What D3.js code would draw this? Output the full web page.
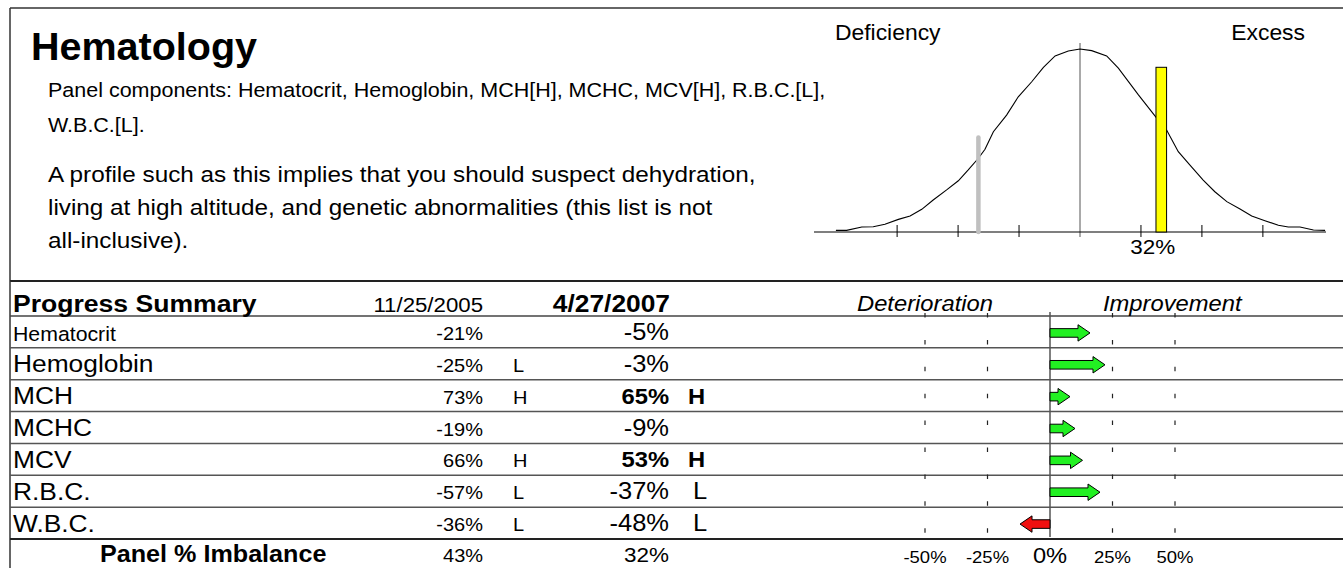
<!DOCTYPE html>
<html><head><meta charset="utf-8">
<script src="https://cdn.jsdelivr.net/npm/d3@7"></script>
<style>
html,body{margin:0;padding:0;background:#fff;}
svg{display:block;font-family:"Liberation Sans",Arial,Helvetica,sans-serif;}
</style></head><body>
<svg id="chart" width="1343" height="568"></svg>
<script>
// ---------------- DATA ----------------
const titleText = "Hematology";
const componentsLines = ["Panel components: Hematocrit, Hemoglobin, MCH[H], MCHC, MCV[H], R.B.C.[L],", "W.B.C.[L]."];
const profileLines = ["A profile such as this implies that you should suspect dehydration,", "living at high altitude, and genetic abnormalities (this list is not", "all-inclusive)."];
const bellLabels = ["Deficiency", "Excess"];
const components = ["Hematocrit","Hemoglobin","MCH","MCHC","MCV","R.B.C.","W.B.C."];
const prevValues = [-21,-25,73,-19,66,-57,-36];
const prevFlags  = ["","L","H","","H","L","L"];
const currValues = [-5,-3,65,-9,53,-37,-48];
const currFlags  = ["","","H","","H","L","L"];
const changeValues = [16,22,8,10,13,20,-12];
const dates = ["11/25/2005","4/27/2007"];
const imbalance = [43, 32];
const changeTicks = [-50,-25,0,25,50];
const changeHeaders = ["Deterioration","Improvement"];
// bell curve: x in % imbalance, y relative height
const bellX = [-96.1,-91.9,-85.9,-81.4,-76.8,-71.5,-66.9,-62.3,-57.8,-52.5,-47.9,-44.0,-40.0,-37.4,-34.1,-28.9,-24.3,-19.0,-14.4,-9.8,-4.6,0,4.6,10.5,15.1,23.0,30.2,34.1,38.7,43.3,48.5,53.1,57.8,63.0,67.6,72.8,78.1,82.0,86.6,91.9,96.5];
const bellY = [0.009,0.009,0.027,0.029,0.042,0.069,0.087,0.124,0.175,0.230,0.280,0.339,0.403,0.452,0.548,0.639,0.739,0.821,0.900,0.962,0.989,1.0,0.991,0.962,0.895,0.749,0.622,0.557,0.439,0.366,0.284,0.220,0.166,0.126,0.087,0.062,0.037,0.027,0.027,0.011,0.009];
const bellTicks = [-72,-48,-24,24,48,72];
const markerValues = [-40, 32];
const markerHeights = [0.516, 0.9];

// ---------------- DRAW ----------------
const svg = d3.select("#chart");
const SX = 1.08;
function label(x, y, str, size, o = {}) {
  return svg.append("text")
    .attr("transform", `translate(${x},${y}) scale(${o.sx ?? SX},1)`)
    .attr("font-size", size)
    .attr("text-anchor", o.anchor || "start")
    .attr("font-weight", o.bold ? "bold" : null)
    .attr("font-style", o.italic ? "italic" : null)
    .attr("fill", "#000")
    .text(str);
}
function hline(y, x1, x2, w, c) {
  svg.append("line").attr("x1", x1).attr("x2", x2).attr("y1", y).attr("y2", y)
    .attr("stroke", c).attr("stroke-width", w);
}
function vline(x, y1, y2, w, c) {
  svg.append("line").attr("x1", x).attr("x2", x).attr("y1", y1).attr("y2", y2)
    .attr("stroke", c).attr("stroke-width", w);
}

// frame top section
hline(8, 10, 1343, 1.5, "#333");
vline(10, 8, 281, 1.5, "#333");

// title & text
label(31, 60, titleText, 39.5, {bold: true, sx: 1});
componentsLines.forEach((t, i) => label(48, 97 + i * 35, t, 19.9));
profileLines.forEach((t, i) => label(48, 182 + i * 33.2, t, 22.5));

// ---------- bell curve ----------
const bx = d3.scaleLinear().domain([-100, 100]).range([826, 1334]);
const by = d3.scaleLinear().domain([0, 1]).range([232, 49]);
label(835, 40, bellLabels[0], 21.2);
label(1305, 40, bellLabels[1], 21.2, {anchor: "end"});
vline(bx(0), 43, 237, 1, "#555");
hline(by(0), 814, 1326, 1.2, "#000");
svg.selectAll(".btick").data(bellTicks).enter().append("line")
  .attr("x1", d => bx(d)).attr("x2", d => bx(d))
  .attr("y1", by(0) - 7).attr("y2", by(0) + 5)
  .attr("stroke", "#000").attr("stroke-width", 1);
svg.append("path")
  .attr("d", d3.line().x((d, i) => bx(bellX[i])).y(d => by(d))(bellY))
  .attr("fill", "none").attr("stroke", "#000").attr("stroke-width", 1.1);
// previous marker (grey)
svg.append("line")
  .attr("x1", bx(markerValues[0])).attr("x2", bx(markerValues[0]))
  .attr("y1", by(markerHeights[0])).attr("y2", by(0))
  .attr("stroke", "#c0c0c0").attr("stroke-width", 4.5).attr("stroke-linecap", "round");
// current marker (yellow)
svg.append("rect")
  .attr("x", bx(markerValues[1]) - 5.3).attr("width", 10.6)
  .attr("y", by(markerHeights[1])).attr("height", by(0) - by(markerHeights[1]))
  .attr("fill", "#ffff00").attr("stroke", "#000").attr("stroke-width", 1);
label(bx(markerValues[1]) - 31, 254, imbalance[1] + "%", 20.8);

// ---------- table ----------
const yb = d3.scaleBand().domain(components).range([316, 539]);
hline(281, 10, 1343, 2, "#222");
vline(10, 281, 568, 1.5, "#333");
hline(316, 10, 1343, 1.5, "#444");
components.forEach((c, i) => {
  const yBot = yb(c) + yb.bandwidth();
  const last = i === components.length - 1;
  hline(yBot, 10, 1343, last ? 2 : 1.5, last ? "#222" : "#555");
});

// header
label(13, 312, "Progress Summary", 24.6, {bold: true});
label(483, 312, dates[0], 20.6, {anchor: "end"});
label(670, 312, dates[1], 24.4, {anchor: "end", bold: true});

// rows
components.forEach((c, i) => {
  const cy = yb(c) + yb.bandwidth() / 2;
  const small = i === 0;
  label(13, cy + (small ? 9.5 : 8.5), c, small ? 19.7 : 24.4);
  label(483, cy + 8, prevValues[i] + "%", 18.5, {anchor: "end"});
  if (prevFlags[i]) label(513, cy + 8, prevFlags[i], 18.5);
  const bold = currFlags[i] === "H";
  label(669, cy + 8, currValues[i] + "%", bold ? 22 : 23.6, {anchor: "end", bold});
  if (currFlags[i]) label(bold ? 688 : 693, cy + 8, currFlags[i], bold ? 22 : 23.6, {bold});
});

// footer row
label(100, 562, "Panel % Imbalance", 23.3, {bold: true});
label(483, 562, imbalance[0] + "%", 18.5, {anchor: "end"});
label(669, 562, imbalance[1] + "%", 20.8, {anchor: "end"});

// ---------- change arrows ----------
const cx = d3.scaleLinear().domain([-50, 50]).range([925, 1175]);
label(857, 311, changeHeaders[0], 22, {italic: true});
label(1103, 311, changeHeaders[1], 22, {italic: true});
svg.selectAll(".grid").data(changeTicks.filter(d => d !== 0)).enter().append("line")
  .attr("x1", d => cx(d)).attr("x2", d => cx(d))
  .attr("y1", 313).attr("y2", 537)
  .attr("stroke", "#222").attr("stroke-width", 1.2)
  .attr("stroke-dasharray", "4.5 22.4");
vline(cx(0), 312, 537, 1.5, "#555");

function arrowPath(x0, x1, y) {
  const len = x1 - x0, dir = Math.sign(len) || 1;
  const hl = Math.min(12, Math.abs(len) * 0.6) * dir;
  const bh = 4.3, hh = 8.2;
  const xh = x1 - hl;
  return `M${x0},${y - bh}L${xh},${y - bh}L${xh},${y - hh}L${x1},${y}L${xh},${y + hh}L${xh},${y + bh}L${x0},${y + bh}Z`;
}
svg.selectAll(".arrow").data(changeValues).enter().append("path")
  .attr("d", (d, i) => arrowPath(cx(0), cx(d), yb(components[i]) + yb.bandwidth() / 2 + 1))
  .attr("fill", d => d >= 0 ? "#22f022" : "#f01010")
  .attr("stroke", "#000").attr("stroke-width", 1);

// bottom axis labels
changeTicks.forEach(t => {
  label(cx(t), 563, t + "%", t === 0 ? 21.9 : 17.1, {anchor: "middle"});
});
</script>
</body></html>
